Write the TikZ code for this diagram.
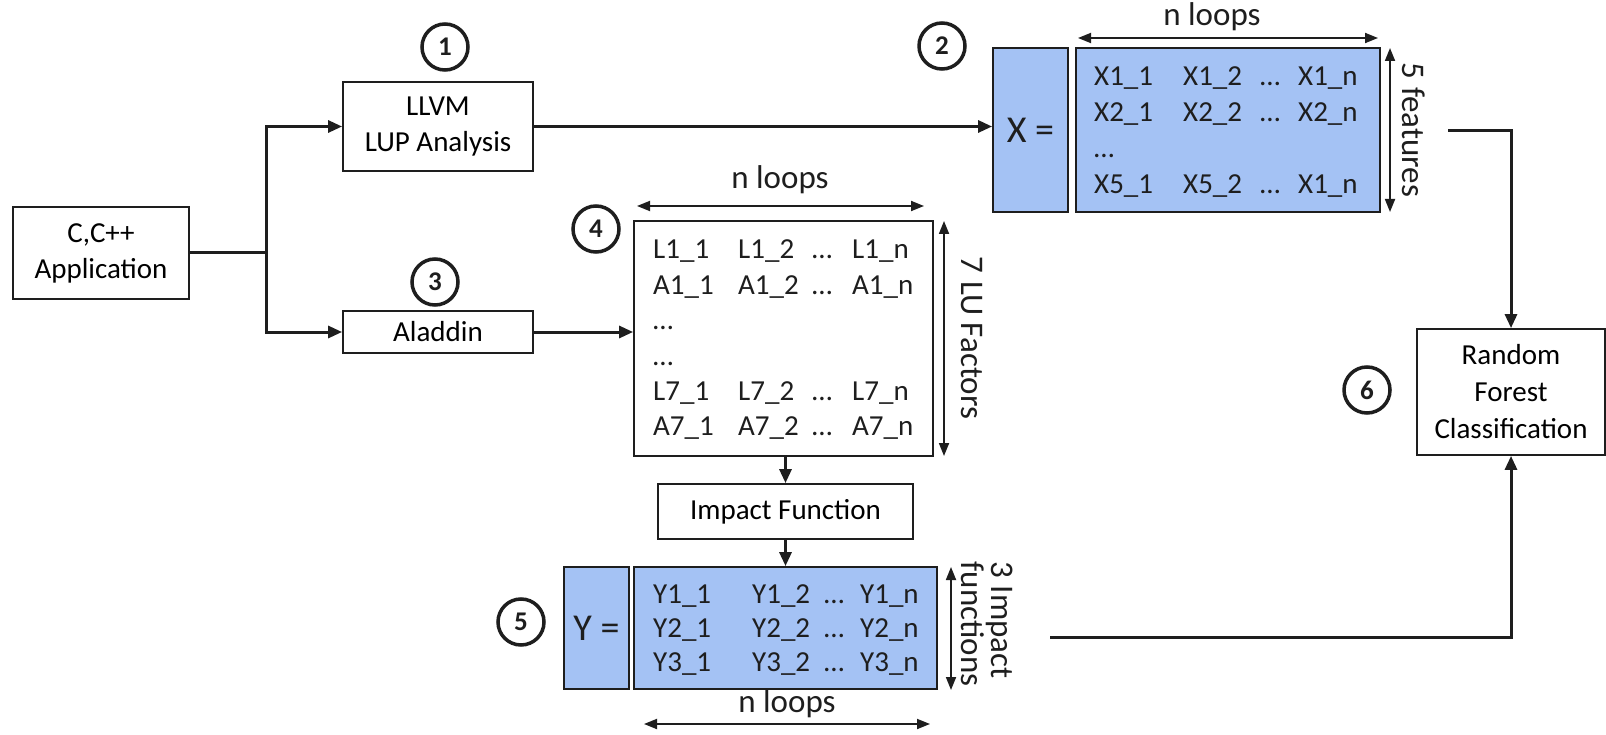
\documentclass[tikz,border=0pt]{standalone}
\usepackage{fontspec}
\setmainfont{Carlito}
\usetikzlibrary{arrows.meta}
\definecolor{matblue}{RGB}{164,194,244}
\definecolor{ink}{RGB}{30,30,30}
% one matrix row: three column widths, then the first, second and last entries
\newcommand{\matrow}[6]{\makebox[#1][l]{#4}\makebox[#2][l]{#5}\makebox[#3][l]{\dots}#6}
\tikzset{
  box/.style={draw=ink, line width=1.8pt, fill=white, align=center, inner sep=0pt, font=\fontsize{29}{36}\selectfont},
  mat/.style={draw=ink, line width=1.8pt, fill=matblue, inner sep=0pt},
  eqlabel/.style={font=\fontsize{38}{38}\selectfont, text=ink},
  entries/.style={anchor=west, align=left, inner sep=0pt, text=ink},
  flow/.style={draw=ink, line width=3pt, -{Triangle[length=14pt,width=12pt]}},
  wire/.style={draw=ink, line width=3pt},
  dim/.style={draw=ink, line width=1.8pt, {Triangle[length=13pt,width=10pt]}-{Triangle[length=13pt,width=10pt]}},
  dimlabel/.style={font=\fontsize{33}{30}\selectfont, text=ink, inner sep=0pt, align=center},
  stepnum/.style={draw=ink, circle, line width=3.5pt, minimum size=46pt, inner sep=0pt, font=\fontsize{27}{27}\selectfont\bfseries, text=ink},
}
\begin{document}
\begin{tikzpicture}[x=1pt,y=-1pt]
\useasboundingbox[fill=white] (0,0) rectangle (1606,735);

% input program
\node[box, minimum width=176pt, minimum height=92pt] (app) at (101,253) {C,C++\\Application};

% stage 1: static analysis
\node[box, minimum width=190pt, minimum height=89pt] (llvm) at (438,126.5) {LLVM\\LUP Analysis};
\node[stepnum] (s1) at (445,47) {1};

% stage 3: simulation
\node[box, minimum width=190pt, minimum height=42pt] (ala) at (438,332) {Aladdin};
\node[stepnum] (s3) at (435,282) {3};

% stage 2: feature matrix X
\node[mat, minimum width=75pt, minimum height=164pt] (xeq) at (1030.5,130) {};
\node[eqlabel] (xeqt) at (xeq.center) {X =};
\node[mat, minimum width=304pt, minimum height=164pt] (xdat) at (1228,130) {};
\node[entries, font=\fontsize{29}{35.7}\selectfont] (xent) at (1094,132) {%
  \matrow{89pt}{77pt}{38pt}{X1\_1}{X1\_2}{X1\_n}\\
  \matrow{89pt}{77pt}{38pt}{X2\_1}{X2\_2}{X2\_n}\\
  \dots\\
  \matrow{89pt}{77pt}{38pt}{X5\_1}{X5\_2}{X1\_n}};
\node[stepnum] (s2) at (942,46) {2};
\coordinate (xtl) at (1078,38);
\coordinate (xtr) at (1378,38);
\draw[dim] (xtl) -- (xtr);
\node[dimlabel] (xloops) at (1212,17) {n loops};
\coordinate (xrt) at (1390,48);
\coordinate (xrb) at (1390,212);
\draw[dim] (xrt) -- (xrb);
\node[dimlabel, rotate=-90] (xfeat) at (1414,130) {5 features};

% stage 4: LU factor matrix
\node[box, minimum width=299pt, minimum height=235pt] (lu) at (783.5,338.5) {};
\node[entries, font=\fontsize{29}{35.4}\selectfont] (luent) at (653,340) {%
  \matrow{85pt}{74pt}{40pt}{L1\_1}{L1\_2}{L1\_n}\\
  \matrow{85pt}{74pt}{40pt}{A1\_1}{A1\_2}{A1\_n}\\
  \dots\\
  \dots\\
  \matrow{85pt}{74pt}{40pt}{L7\_1}{L7\_2}{L7\_n}\\
  \matrow{85pt}{74pt}{40pt}{A7\_1}{A7\_2}{A7\_n}};
\node[stepnum] (s4) at (596,229) {4};
\coordinate (ltl) at (637,206);
\coordinate (ltr) at (924,206);
\draw[dim] (ltl) -- (ltr);
\node[dimlabel] (lloops) at (780,180) {n loops};
\coordinate (lrt) at (944,221);
\coordinate (lrb) at (944,456);
\draw[dim] (lrt) -- (lrb);
\node[dimlabel, rotate=-90] (lfac) at (972,338) {7 LU Factors};

% impact function
\node[box, minimum width=255pt, minimum height=55pt] (imp) at (785.5,511.5) {Impact Function};

% stage 5: target matrix Y
\node[mat, minimum width=65pt, minimum height=122pt] (yeq) at (596.5,628) {};
\node[eqlabel] (yeqt) at (yeq.center) {Y =};
\node[mat, minimum width=303pt, minimum height=122pt] (ydat) at (785.5,628) {};
\node[entries, font=\fontsize{29}{34}\selectfont] (yent) at (653,630) {%
  \matrow{99pt}{72pt}{36pt}{Y1\_1}{Y1\_2}{Y1\_n}\\
  \matrow{99pt}{72pt}{36pt}{Y2\_1}{Y2\_2}{Y2\_n}\\
  \matrow{99pt}{72pt}{36pt}{Y3\_1}{Y3\_2}{Y3\_n}};
\node[stepnum] (s5) at (521,622) {5};
\coordinate (yrt) at (951,567);
\coordinate (yrb) at (951,690);
\draw[dim] (yrt) -- (yrb);
\node[dimlabel, rotate=-90, align=left] (yfun) at (987,624) {3 Impact\\functions};
\node[dimlabel] (yloops) at (787,704) {n loops};
\coordinate (ybl) at (644,724);
\coordinate (ybr) at (930,724);
\draw[dim] (ybl) -- (ybr);

% stage 6: classifier
\node[box, minimum width=188pt, minimum height=126pt, font=\fontsize{29}{37}\selectfont] (rf) at (1511,392) {Random\\Forest\\Classification};
\node[stepnum] (s6) at (1367,390) {6};

% connectors
\coordinate (br) at (266,253);
\draw[wire] (app.east) -- (br);
\draw[flow] (br) |- (llvm.west);
\draw[flow] (br) |- (ala.west);
\draw[flow] (llvm.east) -- (llvm.east -| xeq.west);
\draw[flow] (ala.east) -- (ala.east -| lu.west);
\draw[flow] (imp.north |- lu.south) -- (imp.north);
\draw[flow] (imp.south) -- (imp.south |- ydat.north);
\coordinate (xout) at (1448,131);
\draw[flow] (xout) -| (rf.north);
\coordinate (yout) at (1050,637);
\draw[flow] (yout) -| (rf.south);
\end{tikzpicture}
\end{document}
